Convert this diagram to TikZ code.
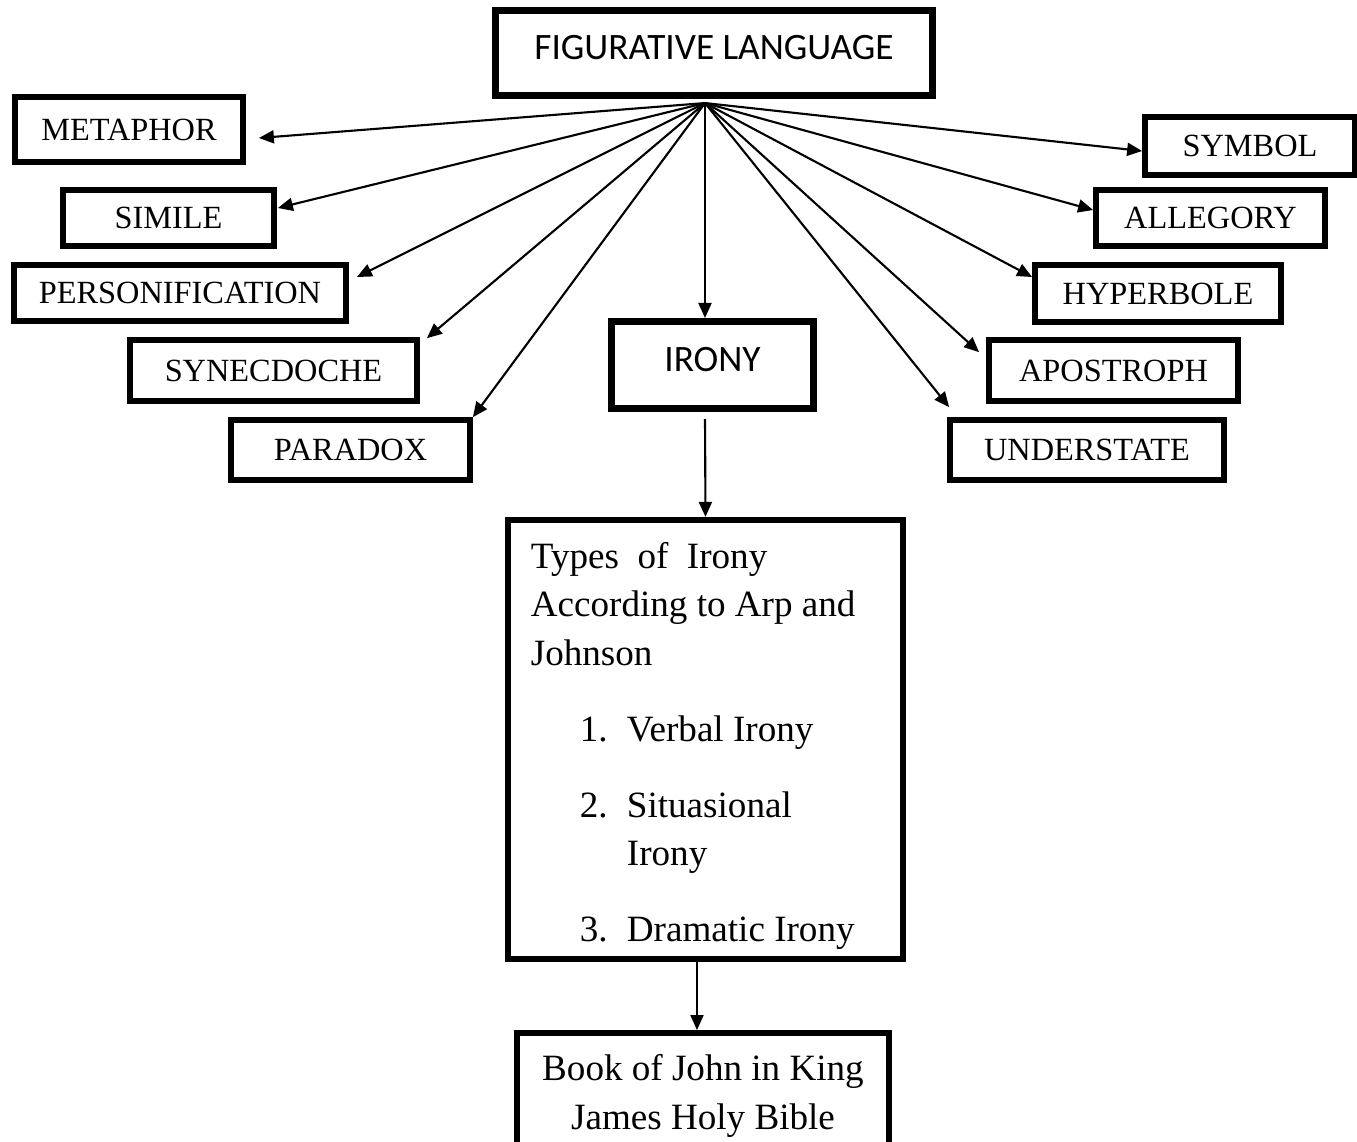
\documentclass[tikz,border=0pt]{standalone}
\usepackage{fontspec}
\setmainfont{Liberation Serif}
\newfontfamily\calibri{Carlito}
\usetikzlibrary{calc,arrows.meta}
\tikzset{
  term/.style={draw, line width=1.6pt, inner sep=0pt, text depth=0pt, font=\fontsize{9.2}{11}\selectfont},
  head/.style={draw, line width=2pt, inner sep=0pt, text depth=0.11cm, font=\calibri\fontsize{10.6}{12}\selectfont},
  body/.style={draw, line width=1.7pt, inner ysep=0pt, inner xsep=0.23cm, align=flush left, font=\fontsize{10.55}{13.8}\selectfont},
  link/.style={-{Triangle[length=1.5mm, width=1.3mm]}, line width=0.6pt}
}

\begin{document}
\begin{tikzpicture}[x=0.01cm, y=-0.01cm]
  \useasboundingbox (0,0) rectangle (1357,1141);

  % top
  \node[head, minimum width=4.37cm, minimum height=0.85cm] (fig) at (714,53) {FIGURATIVE LANGUAGE};
  \coordinate (hub) at ($(fig.south)+(-9,4)$);

  % left column
  \node[term, minimum width=2.28cm, minimum height=0.65cm] (metaphor) at (129,129.5) {METAPHOR};
  \node[term, minimum width=2.11cm, minimum height=0.56cm] (simile) at (168.5,218) {SIMILE};
  \node[term, minimum width=3.32cm, minimum height=0.56cm] (personification) at (180,293) {PERSONIFICATION};
  \node[term, minimum width=2.87cm, minimum height=0.61cm] (synecdoche) at (273.5,370.5) {SYNECDOCHE};
  \node[term, minimum width=2.39cm, minimum height=0.60cm] (paradox) at (350.5,450) {PARADOX};

  % right column
  \node[term, minimum width=2.10cm, minimum height=0.58cm] (symbol) at (1250,146) {SYMBOL};
  \node[term, minimum width=2.29cm, minimum height=0.56cm] (allegory) at (1210.5,218) {ALLEGORY};
  \node[term, minimum width=2.46cm, minimum height=0.57cm] (hyperbole) at (1158,293.5) {HYPERBOLE};
  \node[term, minimum width=2.49cm, minimum height=0.61cm] (apostroph) at (1113.5,370.5) {APOSTROPH};
  \node[term, minimum width=2.74cm, minimum height=0.60cm] (understate) at (1087,450) {UNDERSTATE};

  % middle
  \node[head, minimum width=2.02cm, minimum height=0.87cm] (irony) at (712.5,365) {IRONY};
  \node[body, text width=3.49cm, text height=0.39cm, minimum height=4.39cm] (types) at (705.5,739.5) {%
    Types\ \ of\ \ Irony\\
    According to Arp and\\
    Johnson\\[0.275cm]
    \hspace*{0.49cm}\makebox[0.47cm][l]{1.}Verbal Irony\\[0.275cm]
    \hspace*{0.49cm}\makebox[0.47cm][l]{2.}Situasional\\
    \hspace*{0.96cm}Irony\\[0.275cm]
    \hspace*{0.49cm}\makebox[0.47cm][l]{3.}Dramatic Irony};
  \node[body, anchor=north, align=flush center, text width=3.72cm, inner xsep=0pt, inner ysep=0.217cm] (book) at (703,1030) {%
    Book of John in King\\
    James Holy Bible};

  % arrows
  \draw[link] (hub) -- ($(metaphor.east)+(13,8.5)$);
  \draw[link] (hub) -- ($(simile.east)+(1,-10)$);
  \draw[link] (hub) -- ($(personification.east)+(8,-16)$);
  \draw[link] (hub) -- ($(synecdoche.north east)+(7,1)$);
  \draw[link] (hub) -- (paradox.north east);
  \draw[link] (hub) -- ($(symbol.west)+(0,5)$);
  \draw[link] (hub) -- ($(allegory.west)+(0,-8)$);
  \draw[link] (hub) -- ($(hyperbole.west)+(0,-16.5)$);
  \draw[link] (hub) -- ($(apostroph.north west)+(-7,15)$);
  \draw[link] (hub) -- ($(understate.north west)+(2,-10)$);
  \draw[link] (hub) -- (hub |- irony.north);
  \draw[link] ($(irony.south)+(-7.5,7)$) -- (types.north);
  \draw[link] ([xshift=-0.085cm]types.south) -- ([xshift=-0.085cm]types.south |- book.north);
\end{tikzpicture}
\end{document}
